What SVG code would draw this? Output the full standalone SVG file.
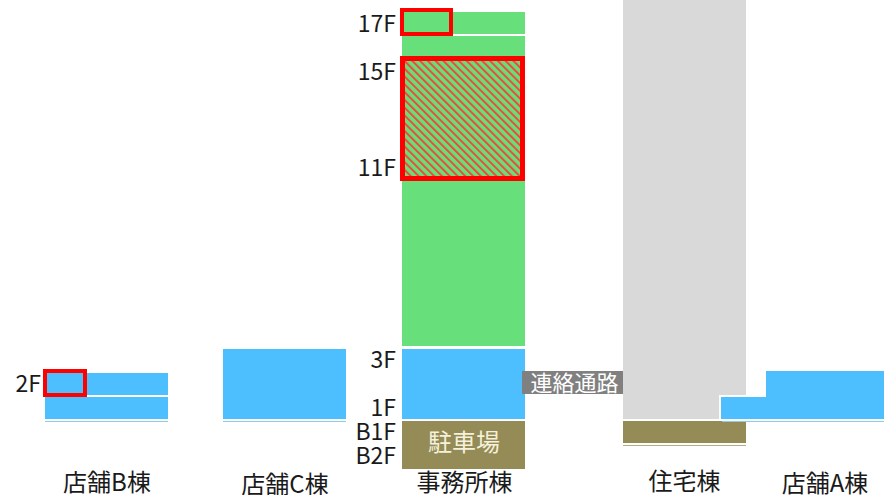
<svg xmlns="http://www.w3.org/2000/svg" width="884" height="495" viewBox="0 0 884 495">
<style>
.fl{font-family:"Noto Sans CJK JP","Liberation Sans",sans-serif;font-size:23px;fill:#1a1a1a;text-anchor:end}
.nm{font-family:"Noto Sans CJK JP","Liberation Sans",sans-serif;font-size:24px;fill:#1a1a1a;text-anchor:middle}
.g{fill:#67e07b}
.b{fill:#4dbfff}
.br{fill:#958b56}
.gr{fill:#d9d9d9}
.hl{fill:none;stroke:#ff0000;stroke-width:4}
</style>
<defs>
<pattern id="hatch" width="5.5" height="5.5" patternUnits="userSpaceOnUse" patternTransform="rotate(-45)">
<rect width="5.5" height="5.5" fill="#67e07b"/>
<line x1="1" y1="0" x2="1" y2="5.5" stroke="#f04a3a" stroke-width="2"/>
</pattern>
</defs>

<g id="shopB">
<rect class="b" x="45" y="373" width="123" height="22"/>
<rect class="b" x="45" y="397" width="123" height="22"/>
<rect x="45" y="421" width="123" height="1" fill="#88ccee"/>
<rect class="hl" x="45" y="371" width="40" height="24"/>
<text class="fl" x="41" y="392">2F</text>
<text class="nm" x="107" y="491">店舗B棟</text>
</g>

<g id="shopC">
<rect class="b" x="223" y="349" width="123" height="70"/>
<rect x="223" y="421" width="123" height="1" fill="#88ccee"/>
<text class="nm" x="285" y="493">店舗C棟</text>
</g>

<g id="office">
<rect class="g" x="402" y="12" width="123" height="22"/>
<rect class="g" x="402" y="36" width="123" height="310"/>
<rect x="402.5" y="58.5" width="120" height="120" fill="url(#hatch)" stroke="#ff0000" stroke-width="5"/>
<rect class="hl" x="402" y="10" width="49" height="24"/>
<rect class="b" x="402" y="349" width="123" height="70"/>
<rect class="br" x="402" y="421" width="123" height="48"/>
<text x="464" y="451" font-family="Noto Sans CJK JP, sans-serif" font-size="24" fill="#f4f1dc" text-anchor="middle">駐車場</text>
<text class="fl" x="396" y="32">17F</text>
<text class="fl" x="396" y="80">15F</text>
<text class="fl" x="396" y="176">11F</text>
<text class="fl" x="396" y="368">3F</text>
<text class="fl" x="396" y="416">1F</text>
<text class="fl" x="396" y="440">B1F</text>
<text class="fl" x="396" y="464">B2F</text>
<text class="nm" x="464.5" y="491">事務所棟</text>
</g>

<g id="residential">
<rect class="gr" x="623" y="0" width="123" height="419"/>
<rect class="br" x="623" y="421" width="123" height="22"/>
<rect x="623" y="445" width="123" height="1" fill="#b3ab82"/>
<text class="nm" x="684.5" y="490">住宅棟</text>
</g>

<g id="shopA">
<rect class="b" x="720" y="396" width="60" height="24" stroke="#ffffff" stroke-width="2"/>
<rect class="b" x="766" y="371" width="118" height="48"/>
<rect x="722" y="421" width="162" height="1" fill="#88ccee"/>
<text class="nm" x="825" y="492">店舗A棟</text>
</g>

<g id="connectors">
<g id="passage">
<rect x="522" y="371" width="101" height="23" fill="#808080"/>
<text x="574.5" y="391" font-family="Noto Sans CJK JP, sans-serif" font-size="22" fill="#ffffff" text-anchor="middle">連絡通路</text>
</g>
</g>
</svg>
